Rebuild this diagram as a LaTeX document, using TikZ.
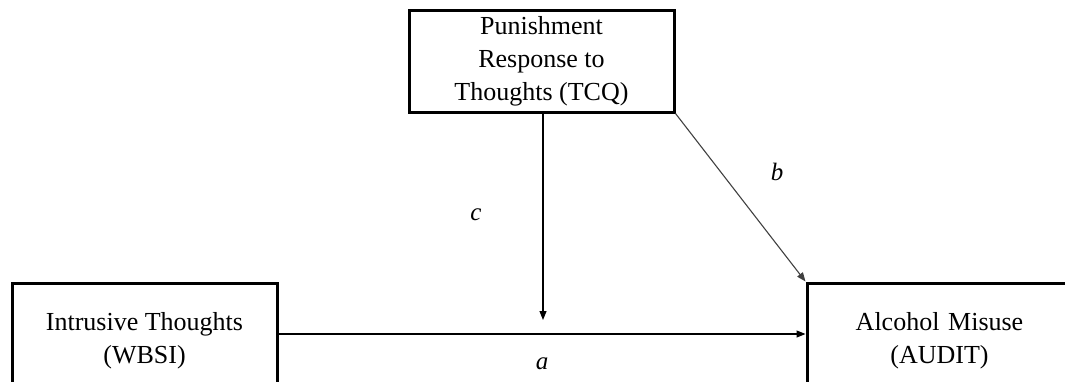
\documentclass[tikz,border=0pt]{standalone}
\usepackage{fontspec}
\setmainfont{Liberation Serif}
\usetikzlibrary{arrows.meta}
\begin{document}
\begin{tikzpicture}[x=1pt,y=-1pt,
  box/.style={draw=black,line width=3pt,align=center,inner sep=0pt,
    font=\fontsize{26}{33}\selectfont},
  conn/.style={line width=1.1pt,-{Triangle[length=9pt,width=7pt]}},
  lab/.style={font=\fontsize{25}{33}\selectfont\itshape}]
\useasboundingbox (0,0) rectangle (1065,381);
\clip (0,0) rectangle (1065,381);
\node[box,minimum width=265pt,minimum height=102pt] (tcq) at (541.5,61)
  {Punishment\\Response to\\Thoughts (TCQ)};
\node[box,minimum width=265pt,minimum height=116pt] (wbsi) at (144.5,341)
  {Intrusive Thoughts\\(WBSI)};
\node[box,minimum width=265pt,minimum height=116pt,text width=265pt] (audit) at (939.5,341)
  {Alcohol Misuse\\(AUDIT)\\[10pt]};
\coordinate (mod) at (543,320);
\draw[conn] (tcq.south -| mod) -- (mod);
\draw[conn] (wbsi.east |- 0,334) -- (audit.west |- 0,334);
\draw[conn,draw=black!75] (tcq.south east) -- (audit.north west);
\node[lab] (la) at (542,364) {a};
\node[lab] (lb) at (777,172) {b};
\node[lab] (lc) at (476,215) {c};
\end{tikzpicture}
\end{document}
